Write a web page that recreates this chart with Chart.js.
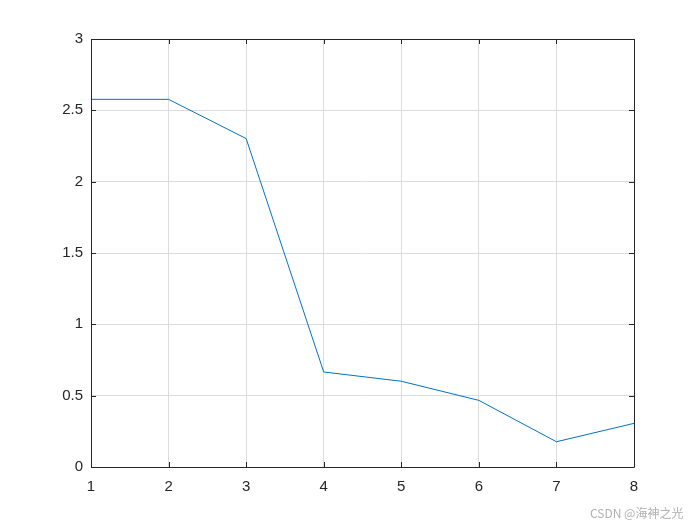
<!DOCTYPE html>
<html>
<head>
<meta charset="utf-8">
<script src="https://cdn.jsdelivr.net/npm/chart.js@4/dist/chart.umd.min.js"></script>
<style>
html,body{margin:0;padding:0;background:#fff;}
#wrap{position:relative;width:700px;height:525px;}
#wm{position:absolute;left:590px;top:504px;font-family:"Noto Sans CJK SC","Liberation Sans",sans-serif;font-size:12px;color:#b0b0b0;white-space:nowrap;}
</style>
</head>
<body>
<div id="wrap">
<canvas id="c" width="700" height="525"></canvas>
<div id="wm">CSDN @海神之光</div>
</div>
<script>
const xValues = [1, 2, 3, 4, 5, 6, 7, 8];
const yValues = [2.577, 2.577, 2.302, 0.666, 0.601, 0.467, 0.177, 0.306];
const xTicks = [1, 2, 3, 4, 5, 6, 7, 8];
const yTicks = [0, 0.5, 1, 1.5, 2, 2.5, 3];

const boxPlugin = {
  id: 'box',
  afterDraw(chart) {
    const {ctx, chartArea: a, scales: {x, y}} = chart;
    ctx.save();
    ctx.strokeStyle = '#262626';
    ctx.lineWidth = 1;
    ctx.beginPath();
    ctx.rect(Math.round(a.left) + 0.5, Math.round(a.top) + 0.5, Math.round(a.right - a.left), Math.round(a.bottom - a.top));
    ctx.stroke();
    const L = 5;
    ctx.beginPath();
    xTicks.forEach(v => {
      const px = Math.round(x.getPixelForValue(v)) + 0.5;
      ctx.moveTo(px, a.bottom); ctx.lineTo(px, a.bottom - L);
      ctx.moveTo(px, a.top); ctx.lineTo(px, a.top + L);
    });
    yTicks.forEach(v => {
      const py = Math.round(y.getPixelForValue(v)) + 0.5;
      ctx.moveTo(a.left, py); ctx.lineTo(a.left + L, py);
      ctx.moveTo(a.right, py); ctx.lineTo(a.right - L, py);
    });
    ctx.stroke();
    ctx.restore();
  }
};

const tickFont = {family: 'Liberation Sans, Arial, sans-serif', size: 15};

new Chart(document.getElementById('c'), {
  type: 'line',
  data: {
    datasets: [{
      data: xValues.map((v, i) => ({x: v, y: yValues[i]})),
      borderColor: '#0072BD',
      borderWidth: 1,
      pointRadius: 0,
      tension: 0,
      fill: false
    }]
  },
  options: {
    responsive: false,
    animation: false,
    layout: {padding: {left: 0, top: 39, right: 66, bottom: 0}},
    plugins: {legend: {display: false}, tooltip: {enabled: false}},
    scales: {
      x: {
        type: 'linear',
        min: 1, max: 8,
        afterBuildTicks: s => { s.ticks = xTicks.map(v => ({value: v})); },
        afterFit: s => { s.height = 58; },
        grid: {color: '#dcdcdc', drawTicks: false},
        border: {display: false},
        ticks: {color: '#262626', font: tickFont, padding: 11, maxRotation: 0, callback: v => String(v)}
      },
      y: {
        type: 'linear',
        min: 0, max: 3,
        afterBuildTicks: s => { s.ticks = yTicks.map(v => ({value: v})); },
        afterFit: s => { s.width = 91; },
        grid: {color: '#dcdcdc', drawTicks: false},
        border: {display: false},
        ticks: {color: '#262626', font: tickFont, padding: 8, callback: v => String(v)}
      }
    }
  },
  plugins: [boxPlugin]
});
</script>
</body>
</html>
